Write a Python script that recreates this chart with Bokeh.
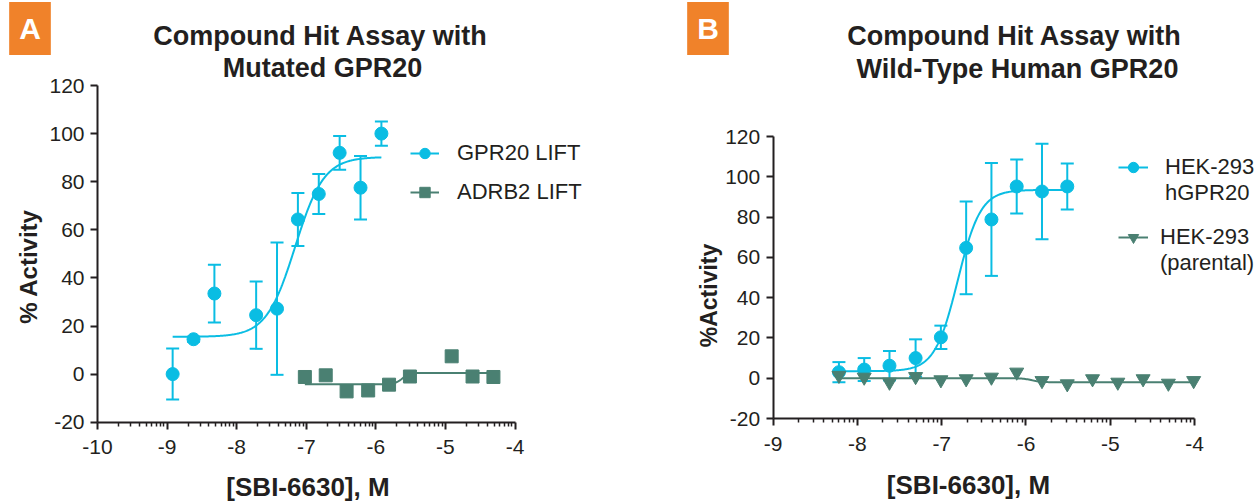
import numpy as np
from bokeh.plotting import figure
from bokeh.models import (FixedTicker, Legend, LegendItem, Label, Range1d, LinearAxis)
from bokeh.layouts import row
from bokeh.embed import file_html
from bokeh.resources import INLINE

# ---------------- data ----------------
# Panel A: compound hit assay with mutated GPR20
a_gpr20_logc = [-8.92, -8.62, -8.32, -7.72, -7.42, -7.12, -6.82, -6.52, -6.22, -5.92]
a_gpr20_act = [0.0, 14.5, 33.5, 24.5, 27.2, 64.3, 74.9, 92.0, 77.5, 100.0]
a_gpr20_err = [10.6, 1.0, 12.0, 14.0, 27.5, 11.0, 8.3, 7.0, 13.2, 5.0]
a_adrb2_logc = [-7.02, -6.72, -6.42, -6.11, -5.81, -5.51, -4.91, -4.61, -4.31]
a_adrb2_act = [-1.2, -0.5, -7.2, -6.8, -4.4, -1.0, 7.4, -1.0, -1.2]
# fitted 4-parameter logistic curves (bottom, top, logEC50, hill)
a_gpr20_fit = (15.5, 90.3, -7.16, 2.1)
a_adrb2_fit = (-4.2, 0.5, -5.62, 8.0)

# Panel B: compound hit assay with wild-type human GPR20
b_hgpr20_logc = [-8.22, -7.92, -7.62, -7.31, -7.01, -6.71, -6.41, -6.11, -5.81, -5.51]
b_hgpr20_act = [3.0, 4.3, 6.2, 10.0, 20.3, 64.7, 78.8, 95.2, 92.7, 95.2]
b_hgpr20_err = [5.0, 5.7, 7.3, 9.3, 5.8, 23.0, 28.0, 13.4, 23.7, 11.4]
b_parental_logc = [-8.22, -7.92, -7.62, -7.31, -7.01, -6.71, -6.41, -6.11, -5.81,
                   -5.51, -5.21, -4.91, -4.61, -4.31, -4.01]
b_parental_act = [1.4, 0.5, -2.0, 0.8, -0.8, -0.3, 0.5, 3.0, -1.2,
                  -2.8, -0.3, -2.0, -0.3, -2.5, -1.2]
b_hgpr20_fit = (3.5, 93.5, -6.81, 3.2)
b_parental_fit = (0.0, -2.0, -5.93, 8.0)

a_xticks = [-10, -9, -8, -7, -6, -5, -4]
b_xticks = [-9, -8, -7, -6, -5, -4]
yticks = [-20, 0, 20, 40, 60, 80, 100, 120]

CYAN = "#0ABDE3"
TEAL = "#4A8072"
ORANGE = "#F0822A"
INK = "#231F20"
FONT = "Liberation Sans"
H = 502
BASE_FIX = 10     # label placement correction (alphabetic baseline)
MID_FIX = 4.5     # label placement correction (middle baseline)


def four_pl(x, params):
    bottom, top, logec50, hill = params
    return bottom + (top - bottom) / (1.0 + 10 ** ((logec50 - x) * hill))


def log_minor(major):
    return [d + np.log10(k) for d in major[:-1] for k in range(2, 10)]


def make_fig(width, xt, px_left, px_right, px_top, px_bottom):
    """Whole canvas is the frame; axes sit at fixed locations inside it."""
    x0, x1 = xt[0], xt[-1]
    y0, y1 = yticks[0], yticks[-1]
    sx = (px_right - px_left) / (x1 - x0)
    sy = (px_bottom - px_top) / (y1 - y0)
    xr = Range1d(x0 - px_left / sx, x1 + (width - px_right) / sx)
    yr = Range1d(y0 - (H - px_bottom) / sy, y1 + px_top / sy)
    p = figure(width=width, height=H, x_range=xr, y_range=yr, title=None,
               x_axis_type=None, y_axis_type=None,
               output_backend="svg", toolbar_location=None, min_border=0)
    p.outline_line_color = None
    xa = LinearAxis(fixed_location=y0, bounds=(x0, x1),
                    ticker=FixedTicker(ticks=xt, minor_ticks=log_minor(xt)),
                    major_label_overrides={t: str(t) for t in xt})
    ya = LinearAxis(fixed_location=x0, bounds=(y0, y1),
                    ticker=FixedTicker(ticks=yticks, minor_ticks=[]),
                    major_label_overrides={t: str(t) for t in yticks})
    for ax in (xa, ya):
        ax.axis_line_width = 2
        ax.axis_line_color = INK
        ax.major_tick_line_width = 2
        ax.major_tick_line_color = INK
        ax.major_tick_out = 7
        ax.major_tick_in = 0
        ax.minor_tick_line_width = 1.5
        ax.minor_tick_line_color = INK
        ax.minor_tick_out = 4
        ax.minor_tick_in = 0
        ax.major_label_text_font = FONT
        ax.major_label_text_font_size = "21px"
        ax.major_label_text_color = INK
    xa.major_label_standoff = 11
    ya.major_label_standoff = 6
    p.add_layout(xa, "below")
    p.add_layout(ya, "left")
    return p


def add_text(p, text, x, y, size, bold=True, color=INK, align="center",
             baseline="alphabetic", angle=0.0):
    fix = BASE_FIX if baseline == "alphabetic" else 0
    lab = Label(x=x, y=H - (y - fix), x_units="screen", y_units="screen", text=text,
                text_font=FONT, text_font_size=size,
                text_font_style="bold" if bold else "normal",
                text_color=color, text_align=align, text_baseline=baseline, angle=angle)
    p.add_layout(lab)
    return lab


def add_badge(p, text, x, y):
    lab = Label(x=x, y=H - (y - MID_FIX), x_units="screen", y_units="screen", text=text,
                text_font=FONT, text_font_size="30px", text_font_style="bold",
                text_color="white", text_align="center", text_baseline="middle",
                background_fill_color=ORANGE, padding=10)
    p.add_layout(lab)


def make_legend(items, left, top, n_rows, spacing, standoff, glyph_w):
    row_h = 26
    height = n_rows * row_h + (n_rows - 1) * spacing
    return Legend(items=items, location=(left, H - (top + height)), padding=0, margin=0,
                  spacing=spacing, glyph_width=glyph_w, glyph_height=row_h,
                  label_height=row_h, label_standoff=standoff,
                  label_text_font=FONT, label_text_font_size="22px",
                  label_text_color=INK, border_line_color=None, background_fill_alpha=0)


def error_bars(p, xs, ys, errs, color):
    lo = [v - e for v, e in zip(ys, errs)]
    hi = [v + e for v, e in zip(ys, errs)]
    p.segment(xs, lo, xs, hi, line_color=color, line_width=2)
    p.scatter(xs, hi, marker="dash", size=13, line_color=color, line_width=2)
    p.scatter(xs, lo, marker="dash", size=13, line_color=color, line_width=2)


# ---------------- Panel A ----------------
WA = 640
pa = make_fig(WA, a_xticks, 97, 514.5, 85, 421.7)

error_bars(pa, a_gpr20_logc, a_gpr20_act, a_gpr20_err, CYAN)
xa1 = np.linspace(min(a_gpr20_logc), max(a_gpr20_logc), 300)
la1 = pa.line(xa1, four_pl(xa1, a_gpr20_fit), line_color=CYAN, line_width=2)
xa2 = np.linspace(min(a_adrb2_logc), max(a_adrb2_logc), 300)
la2 = pa.line(xa2, four_pl(xa2, a_adrb2_fit), line_color=TEAL, line_width=2)
sa1 = pa.scatter(a_gpr20_logc, a_gpr20_act, marker="circle", size=13,
                 fill_color=CYAN, line_color=CYAN)
sa2 = pa.scatter(a_adrb2_logc, a_adrb2_act, marker="square", size=13,
                 fill_color=TEAL, line_color=TEAL)

pa.add_layout(make_legend([LegendItem(label="GPR20 LIFT", renderers=[la1, sa1]),
                           LegendItem(label="ADRB2 LIFT", renderers=[la2, sa2])],
                          410, 140, 2, 13, 18, 29))

add_text(pa, "Compound Hit Assay with", 320, 45, "27px")
add_text(pa, "Mutated GPR20", 322, 77.7, "27px")
add_text(pa, "% Activity", 27.5, 266, "24px", baseline="middle", angle=np.pi / 2)
add_text(pa, "[SBI-6630], M", 307.5, 496, "26px")
add_badge(pa, "A", 29.5, 32.5)

# ---------------- Panel B ----------------
WB = 1259 - WA
OX = WA  # screen x offset of panel B
pb = make_fig(WB, b_xticks, 772.7 - OX, 1194 - OX, 136, 418)

error_bars(pb, b_hgpr20_logc, b_hgpr20_act, b_hgpr20_err, CYAN)
xb1 = np.linspace(min(b_hgpr20_logc), max(b_hgpr20_logc), 300)
lb1 = pb.line(xb1, four_pl(xb1, b_hgpr20_fit), line_color=CYAN, line_width=2)
xb2 = np.linspace(min(b_parental_logc), max(b_parental_logc), 300)
lb2 = pb.line(xb2, four_pl(xb2, b_parental_fit), line_color=TEAL, line_width=2)
sb1 = pb.scatter(b_hgpr20_logc, b_hgpr20_act, marker="circle", size=13,
                 fill_color=CYAN, line_color=CYAN)
sb2 = pb.scatter(b_parental_logc, b_parental_act, marker="inverted_triangle", size=14,
                 fill_color=TEAL, line_color=TEAL)
blank = pb.scatter([], [], marker="circle", size=1, fill_alpha=0, line_alpha=0)

pb.add_layout(make_legend([LegendItem(label="HEK-293", renderers=[lb1, sb1]),
                           LegendItem(label="hGPR20", renderers=[blank])],
                          1118 - OX, 153.7, 2, 0, 17, 30))
pb.add_layout(make_legend([LegendItem(label="HEK-293", renderers=[lb2, sb2]),
                           LegendItem(label="(parental)", renderers=[blank])],
                          1118 - OX, 223.7, 2, 0, 12, 30))

add_text(pb, "Compound Hit Assay with", 1014 - OX, 45, "27px")
add_text(pb, "Wild-Type Human GPR20", 1017 - OX, 78, "27px")
add_text(pb, "%Activity", 708 - OX, 295, "23px", baseline="middle", angle=np.pi / 2)
add_text(pb, "[SBI-6630], M", 968 - OX, 494, "26px")
add_badge(pb, "B", 707.5 - OX, 32.5)

layout = row(pa, pb)
open("out.html", "w").write(file_html(layout, INLINE))
